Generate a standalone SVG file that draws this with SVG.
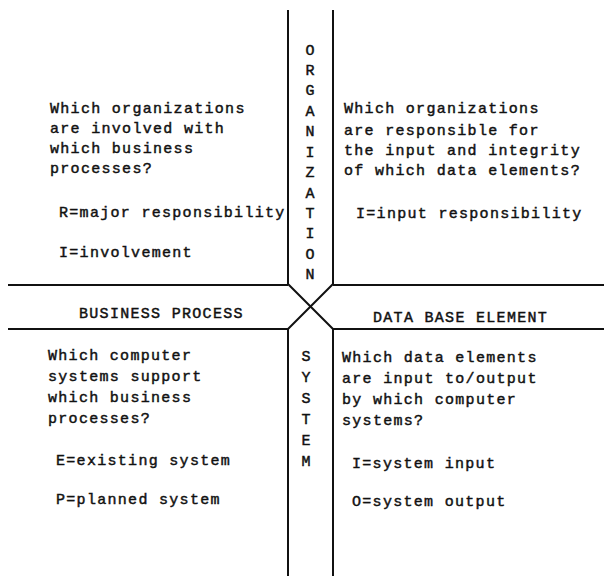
<svg xmlns="http://www.w3.org/2000/svg" width="604" height="576" viewBox="0 0 604 576">
<style>
text{font-family:"Liberation Mono","DejaVu Sans Mono",monospace;font-size:15px;fill:#111;letter-spacing:1.3px;stroke:#111;stroke-width:0.45px}
.v{text-anchor:middle;letter-spacing:0}
.ln{fill:none;stroke:#111;stroke-width:2;stroke-linejoin:round}
</style>
<rect width="604" height="576" fill="#fff"/>
<g id="connectors">
<path class="ln" d="M288,10 V284 L310.5,306.5 L288,329 V576"/>
<path class="ln" d="M333,10 V284 L310.5,306.5 L333,329 V576"/>
<path class="ln" d="M8,285 H288 M333,285 H604 M8,329 H288 M333,329 H604"/>
</g>
<g id="organization">
<text class="v" x="310" y="55">O</text>
<text class="v" x="310" y="75">R</text>
<text class="v" x="310" y="95">G</text>
<text class="v" x="310" y="116">A</text>
<text class="v" x="310" y="136">N</text>
<text class="v" x="310" y="157">I</text>
<text class="v" x="310" y="177">Z</text>
<text class="v" x="310" y="198">A</text>
<text class="v" x="310" y="218">T</text>
<text class="v" x="310" y="238">I</text>
<text class="v" x="310" y="259">O</text>
<text class="v" x="310" y="279">N</text>
</g>
<g id="system">
<text class="v" x="306" y="361">S</text>
<text class="v" x="306" y="382">Y</text>
<text class="v" x="306" y="403">S</text>
<text class="v" x="306" y="424">T</text>
<text class="v" x="306" y="445">E</text>
<text class="v" x="306" y="466">M</text>
</g>
<g id="business-process"><text x="79" y="318">BUSINESS PROCESS</text></g>
<g id="data-base-element"><text x="373" y="322">DATA BASE ELEMENT</text></g>
<g id="org-business">
<text x="50" y="113">Which organizations</text>
<text x="50" y="133">are involved with</text>
<text x="50" y="153">which business</text>
<text x="50" y="173">processes?</text>
<text x="59" y="217">R=major responsibility</text>
<text x="59" y="257">I=involvement</text>
</g>
<g id="org-data">
<text x="344" y="113">Which organizations</text>
<text x="344" y="135">are responsible for</text>
<text x="344" y="155">the input and integrity</text>
<text x="344" y="175">of which data elements?</text>
<text x="356" y="218">I=input responsibility</text>
</g>
<g id="system-business">
<text x="48" y="360">Which computer</text>
<text x="48" y="381">systems support</text>
<text x="48" y="402">which business</text>
<text x="48" y="423">processes?</text>
<text x="56" y="465">E=existing system</text>
<text x="56" y="504">P=planned system</text>
</g>
<g id="system-data">
<text x="342" y="362">Which data elements</text>
<text x="342" y="383">are input to/output</text>
<text x="342" y="404">by which computer</text>
<text x="342" y="425">systems?</text>
<text x="352" y="468">I=system input</text>
<text x="352" y="506">O=system output</text>
</g>
</svg>
